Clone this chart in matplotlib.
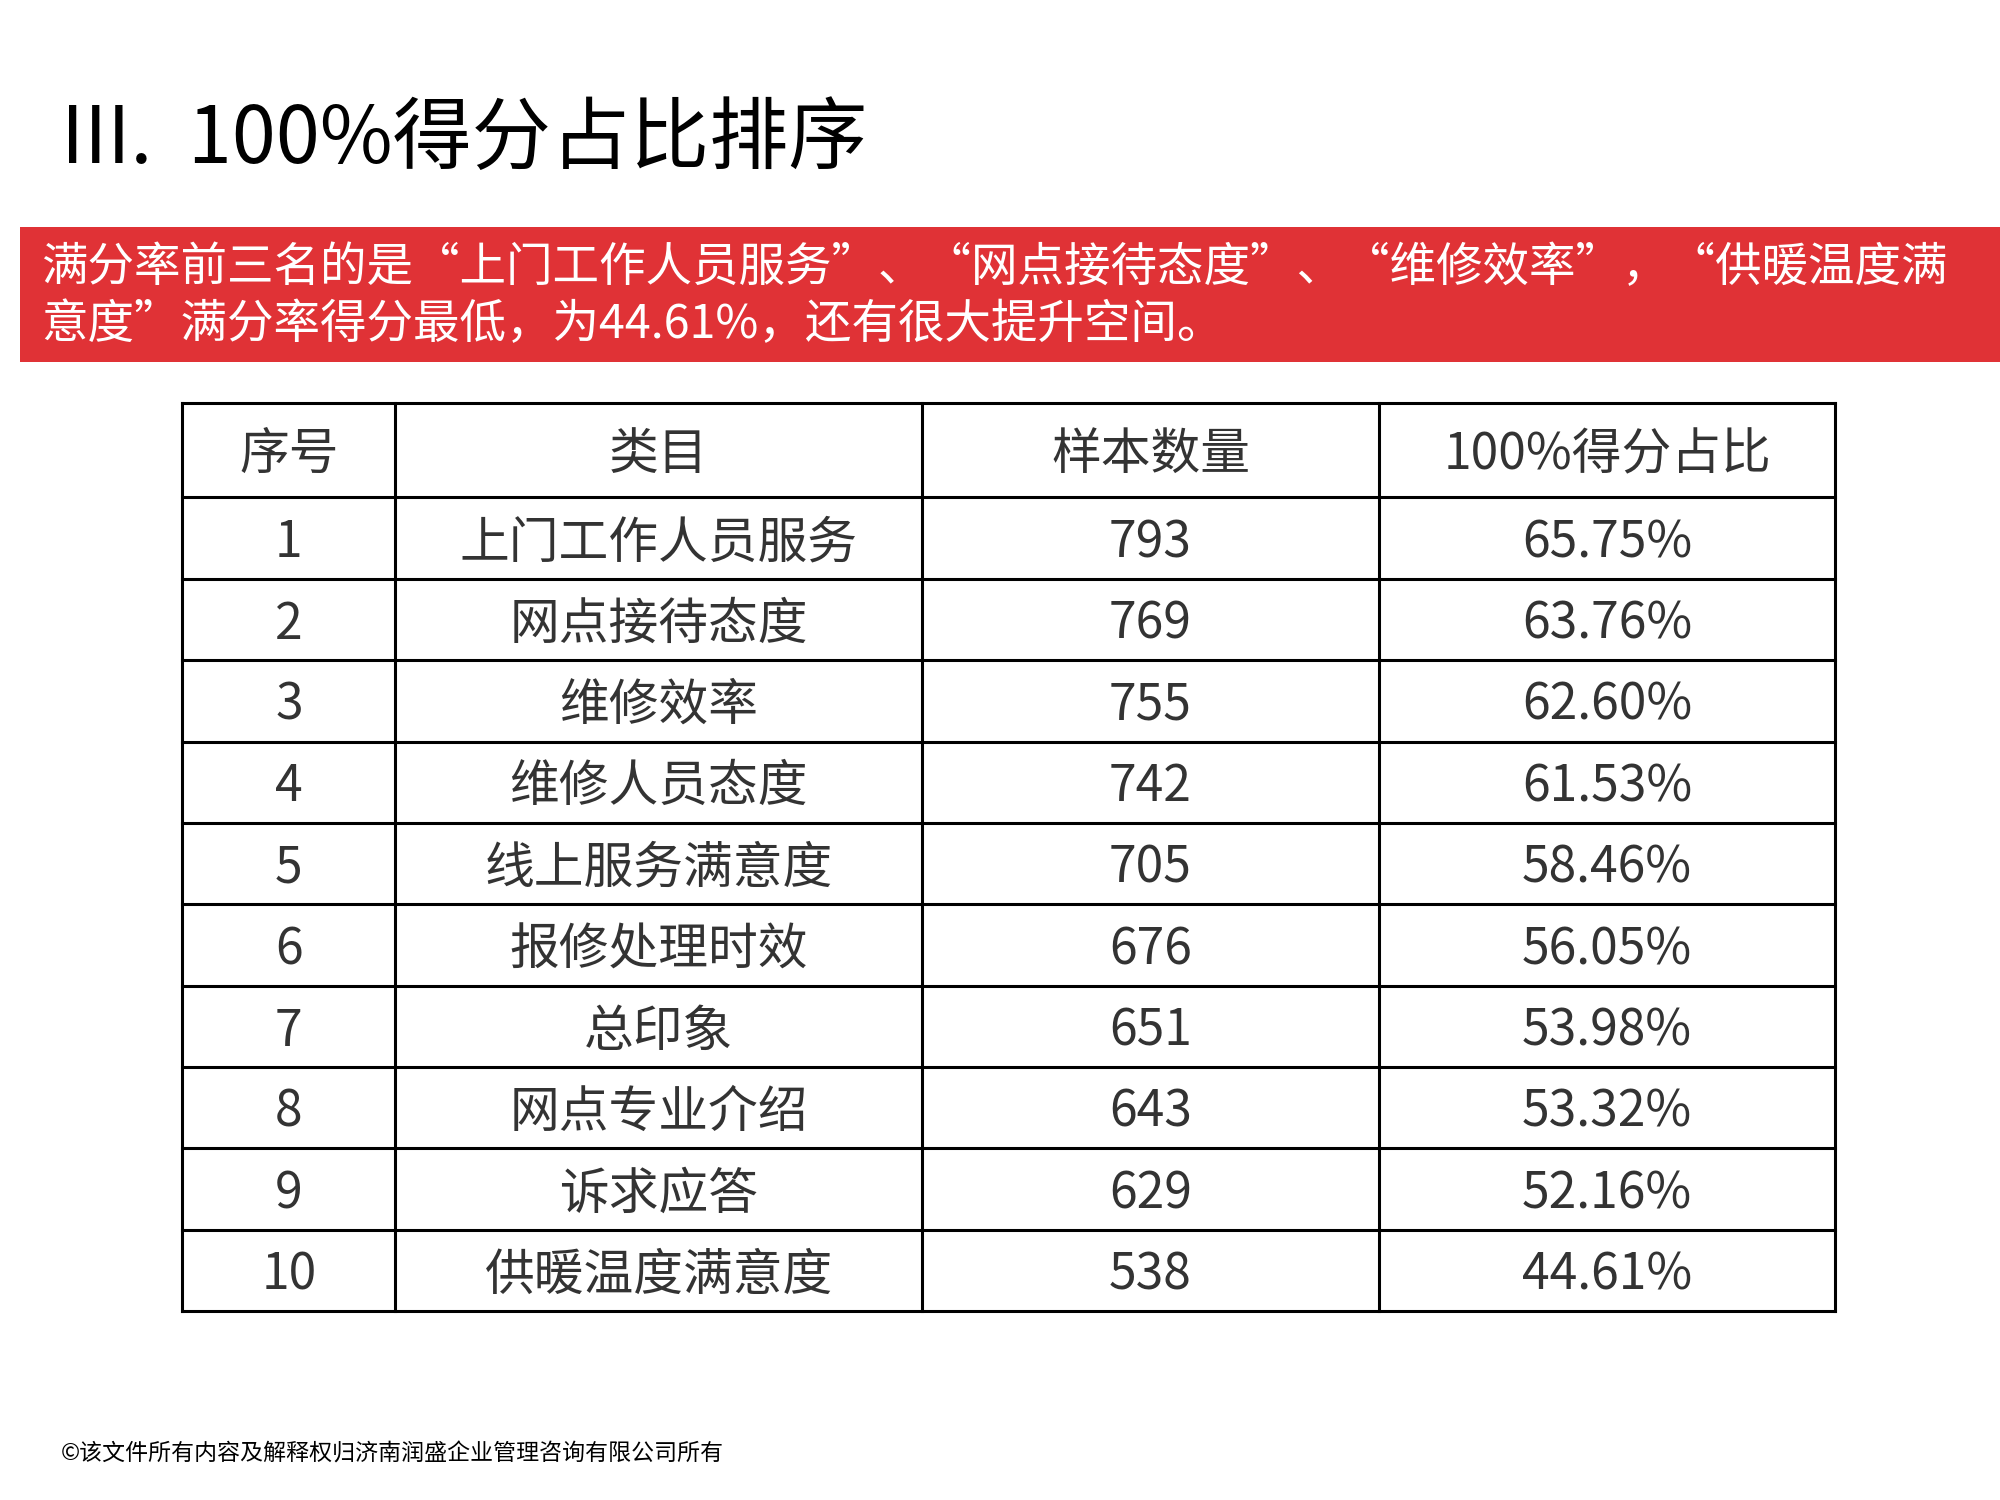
import matplotlib
matplotlib.use("Agg")
import matplotlib.pyplot as plt
from matplotlib.patches import Rectangle

plt.rcParams['font.family'] = ['Noto Sans CJK SC', 'DejaVu Sans']

title = "III.  100%得分占比排序"
banner_lines = ["满分率前三名的是“上门工作人员服务”、“网点接待态度”、“维修效率”，“供暖温度满",
                "意度”满分率得分最低，为44.61%，还有很大提升空间。"]
headers = ["序号", "类目", "样本数量", "100%得分占比"]
ranks = [1, 2, 3, 4, 5, 6, 7, 8, 9, 10]
categories = ["上门工作人员服务", "网点接待态度", "维修效率", "维修人员态度", "线上服务满意度",
              "报修处理时效", "总印象", "网点专业介绍", "诉求应答", "供暖温度满意度"]
samples = [793, 769, 755, 742, 705, 676, 651, 643, 629, 538]
shares = ["65.75%", "63.76%", "62.60%", "61.53%", "58.46%", "56.05%", "53.98%", "53.32%", "52.16%", "44.61%"]
footer = "©该文件所有内容及解释权归济南润盛企业管理咨询有限公司所有"

W, H = 1568, 1176
fig = plt.figure(figsize=(20, 15), dpi=100)
ax = fig.add_axes([0, 0, 1, 1])
ax.set_xlim(0, W); ax.set_ylim(H, 0); ax.axis('off')
s = 2000 / W

def fs(px):
    return px * 0.72 * s

ax.text(48, 110, title, fontsize=fs(62), va='center', ha='left', color='black')
ax.add_patch(Rectangle((16, 178), W - 16, 106, color='#E03236', lw=0))
ax.text(32, 210, banner_lines[0], fontsize=fs(36.5), color='white', va='center', ha='left')
ax.text(32, 255, banner_lines[1], fontsize=fs(36.5), color='white', va='center', ha='left')

cols = [143, 310, 723, 1081, 1439]
top, head_bot, bot = 316, 390, 1028
rowh = (bot - head_bot) / len(ranks)
ys = [top, head_bot] + [head_bot + rowh * (i + 1) for i in range(len(ranks))]
for y in ys:
    ax.plot([cols[0], cols[-1]], [y, y], color='black', lw=2.2, solid_capstyle='projecting')
for x in cols:
    ax.plot([x, x], [top, bot], color='black', lw=2.2, solid_capstyle='projecting')
cx = [(cols[i] + cols[i + 1]) / 2 for i in range(4)]
tc = '#333333'
for i, h in enumerate(headers):
    ax.text(cx[i], (top + head_bot) / 2 + 4, h, fontsize=fs(39), ha='center', va='center', color=tc)
for r in range(len(ranks)):
    yc = head_bot + rowh * (r + 0.5) + 4
    vals = [str(ranks[r]), categories[r], str(samples[r]), shares[r]]
    for i, v in enumerate(vals):
        ax.text(cx[i], yc, v, fontsize=fs(39), ha='center', va='center', color=tc)

ax.text(48, 1140, footer, fontsize=fs(18), ha='left', va='center', color='black')
fig.savefig("out.png", dpi=100)
